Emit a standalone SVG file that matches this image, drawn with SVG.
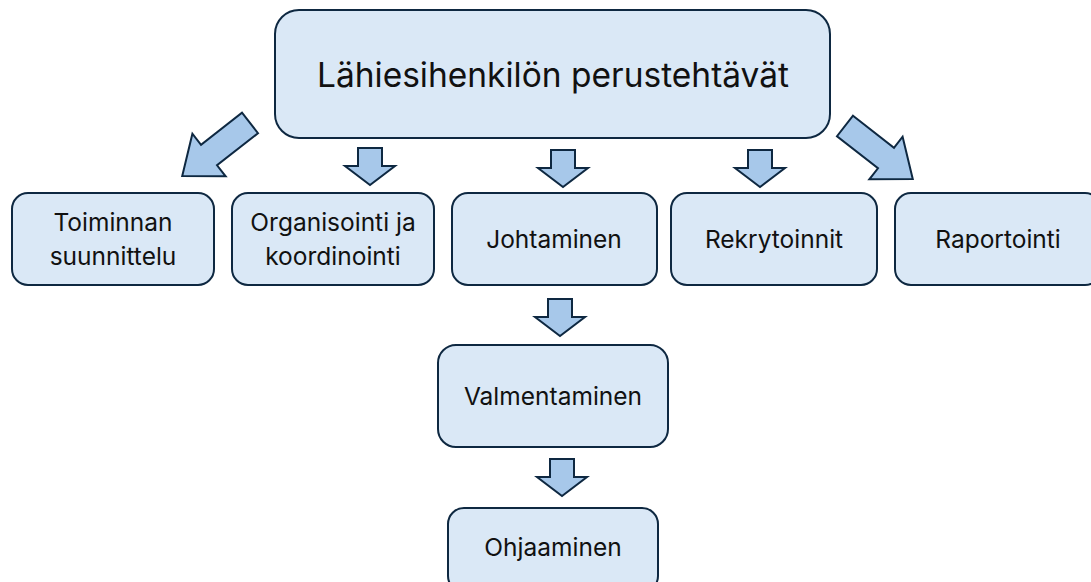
<svg xmlns="http://www.w3.org/2000/svg" width="1091" height="582" viewBox="0 0 1091 582">
  <defs>
    <style>
      .box { fill: #dae8f6; stroke: #0e2841; stroke-width: 2; }
      .arrow { fill: #a7c8ea; stroke: #0e2841; stroke-width: 2; stroke-linejoin: miter; }
      .lbl { font-family: Inter, "Noto Sans", "Liberation Sans", sans-serif; font-size: 24.5px; fill: #111; text-anchor: middle; }
      .title { font-size: 33.5px; }
    </style>
    <!-- down block arrow, 50 wide, 37 tall, origin at top centre -->
    <path id="down" d="M -12 0 H 12 V 18 H 25 L 0 37 L -25 18 H -12 Z"/>
    <!-- long block arrow pointing along +x, origin at tail centre -->
    <path id="long" d="M 0 -13 H 52 V -27 L 86 0 L 52 27 V 13 H 0 Z"/>
  </defs>
  <rect width="1091" height="582" fill="#ffffff"/>

  <g id="connectors">
    <use href="#long" class="arrow" transform="translate(250 123) rotate(142)"/>
    <use href="#long" class="arrow" transform="translate(845 126) rotate(38)"/>
    <use href="#down" class="arrow" transform="translate(370 148)"/>
    <use href="#down" class="arrow" transform="translate(563 150)"/>
    <use href="#down" class="arrow" transform="translate(760 150)"/>
    <use href="#down" class="arrow" transform="translate(560 299)"/>
    <use href="#down" class="arrow" transform="translate(562 459)"/>
  </g>

  <g id="node-root">
    <rect class="box" x="275" y="10" width="555" height="128" rx="24"/>
    <text class="lbl title" x="553" y="87">Lähiesihenkilön perustehtävät</text>
  </g>
  <g id="node-toiminnan">
    <rect class="box" x="12" y="193" width="202" height="92" rx="16"/>
    <text class="lbl" x="113" y="231">Toiminnan</text>
    <text class="lbl" x="113" y="265">suunnittelu</text>
  </g>
  <g id="node-organisointi">
    <rect class="box" x="232" y="193" width="202" height="92" rx="16"/>
    <text class="lbl" x="333" y="231">Organisointi ja</text>
    <text class="lbl" x="333" y="265">koordinointi</text>
  </g>
  <g id="node-johtaminen">
    <rect class="box" x="452" y="193" width="205" height="92" rx="16"/>
    <text class="lbl" x="554" y="248">Johtaminen</text>
  </g>
  <g id="node-rekrytoinnit">
    <rect class="box" x="671" y="193" width="206" height="92" rx="16"/>
    <text class="lbl" x="774" y="248">Rekrytoinnit</text>
  </g>
  <g id="node-raportointi">
    <rect class="box" x="895" y="193" width="206" height="92" rx="16"/>
    <text class="lbl" x="998" y="248">Raportointi</text>
  </g>
  <g id="node-valmentaminen">
    <rect class="box" x="438" y="345" width="230" height="102" rx="18"/>
    <text class="lbl" x="553" y="405">Valmentaminen</text>
  </g>
  <g id="node-ohjaaminen">
    <rect class="box" x="448" y="508" width="210" height="84" rx="16"/>
    <text class="lbl" x="553" y="556">Ohjaaminen</text>
  </g>
</svg>
